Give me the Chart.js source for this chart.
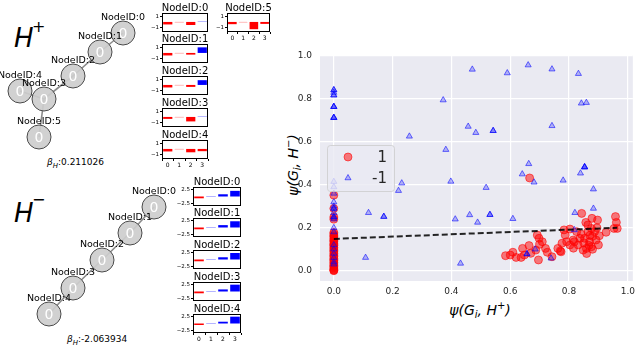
<!DOCTYPE html>
<html>
<head>
<meta charset="utf-8">
<script src="https://cdn.jsdelivr.net/npm/chart.js@4/dist/chart.umd.min.js"></script>
<style>
  body { margin: 0; width: 640px; height: 346px; background: #fff; position: relative; overflow: hidden; font-family: "DejaVu Sans", sans-serif; }
  canvas { position: absolute; }
  .txt { position: absolute; white-space: nowrap; color: #000; line-height: 1; }
  .it { font-style: italic; }
</style>
</head>
<body>
<div class="txt it" style="left:14px; top:25px; font-size:26px;">H</div>
<div class="txt" style="left:32px; top:19px; font-size:16px;">+</div>
<div class="txt it" style="left:14px; top:200px; font-size:26px;">H</div>
<div class="txt" style="left:32px; top:192px; font-size:16px;">−</div>
<div class="txt" style="left:47px; top:158px; font-size:9px;"><span class="it">β</span><sub class="it" style="font-size:7px">H</sub>:0.211026</div>
<div class="txt" style="left:67px; top:335px; font-size:9px;"><span class="it">β</span><sub class="it" style="font-size:7px">H</sub>:-2.063934</div>
<div class="txt it" style="left:400px; top:301px; width:160px; text-align:center; font-size:14px;">ψ(G<sub style="font-size:10px">i</sub>, H<sup style="font-size:10px">+</sup>)</div>
<div class="txt it" style="left:211px; top:158px; width:160px; text-align:center; font-size:14px; transform:rotate(-90deg); transform-origin:80px 7px;">ψ(G<sub style="font-size:10px">i</sub>, H<sup style="font-size:10px">−</sup>)</div>
<script>
// scatter: label 1 (red circles)
const POS_X = [
  0, 0, 0, 0, 0, 0, 0, 0, 0, 0, 0, 0, 0, 0, 0, 0, 0, 0, 0, 0, 0, 0, 0, 0, 0, 0, 0, 0, 0, 0, 0, 0,
  0.843, 0.878, 0.897, 0.857, 0.958, 0.961, 0.964, 0.953, 0.926, 0.903, 0.892, 0.876, 0.864, 0.842,
  0.853, 0.87, 0.876, 0.859, 0.848, 0.831, 0.818, 0.803, 0.792, 0.776, 0.787, 0.783, 0.803, 0.814,
  0.826, 0.837, 0.864, 0.887, 0.762, 0.77, 0.72, 0.726, 0.709, 0.698, 0.692, 0.7, 0.687, 0.67,
  0.664, 0.642, 0.648, 0.637, 0.62, 0.609, 0.6, 0.584, 0.696, 0.742, 0.773, 0.666, 0.88, 0.868,
  0.895, 0.85, 0.815, 0.9, 0.88, 0.86, 0.871
];
const POS_Y = [
  0.352, 0.29, 0.25, 0.24, 0.178, 0.171, 0.163, 0.158, 0.149, 0.142, 0.137, 0.128, 0.121, 0.117, 0.108, 0.101,
  0.094, 0.088, 0.079, 0.072, 0.066, 0.057, 0.051, 0.046, 0.038, 0.031, 0.024, 0.019, 0.012, 0.006, 0.002, 0.0,
  0.267, 0.244, 0.236, 0.225, 0.252, 0.225, 0.197, 0.197, 0.179, 0.163, 0.143, 0.197, 0.182, 0.17,
  0.151, 0.135, 0.112, 0.104, 0.096, 0.12, 0.135, 0.12, 0.135, 0.128, 0.166, 0.19, 0.194, 0.143,
  0.182, 0.151, 0.213, 0.182, 0.104, 0.092, 0.104, 0.086, 0.135, 0.151, 0.166, 0.123, 0.096, 0.081,
  0.117, 0.104, 0.073, 0.062, 0.062, 0.086, 0.073, 0.07, 0.05, 0.065, 0.088, 0.432, 0.16, 0.118,
  0.2, 0.13, 0.105, 0.12, 0.1, 0.08, 0.165
];
// scatter: label -1 (blue triangles), repeated values stack into darker marks
const NEG_X = [
  0, 0, 0, 0, 0, 0, 0, 0, 0, 0, 0, 0, 0, 0, 0, 0, 0, 0, 0, 0, 0, 0, 0, 0, 0, 0, 0, 0, 0, 0,
  0.471, 0.59, 0.661, 0.742, 0.832, 0.372, 0.842, 0.859, 0.457, 0.483, 0.542, 0.542, 0.742, 0.257,
  0.381, 0.663, 0.641, 0.681, 0.853, 0.853, 0.853, 0.839, 0.78, 0.883, 0.518, 0.398, 0.231, 0.22,
  0.118, 0.17, 0.17, 0.413, 0.462, 0.489, 0.531, 0.531, 0.609, 0.82, 0.883, 0.108, 0.431, 0.657,
  0.657, 0.685, 0.739, 0.818
];
const NEG_Y = [
  0.842, 0.842, 0.83, 0.818, 0.818, 0.764, 0.764, 0.764, 0.713, 0.713, 0.713, 0.415, 0.39, 0.36, 0.32, 0.3,
  0.29, 0.27, 0.25, 0.25, 0.24, 0.2, 0.18, 0.12, 0.1, 0.08, 0.06, 0.04, 0.03, 0.29,
  0.938, 0.921, 0.958, 0.939, 0.918, 0.795, 0.78, 0.783, 0.672, 0.643, 0.652, 0.652, 0.675, 0.626,
  0.564, 0.498, 0.45, 0.412, 0.483, 0.483, 0.483, 0.454, 0.421, 0.38, 0.387, 0.416, 0.408, 0.373,
  0.27, 0.252, 0.252, 0.24, 0.26, 0.225, 0.261, 0.261, 0.242, 0.27, 0.29, 0.061, 0.034, 0.078,
  0.078, 0.1, 0.058, 0.19
];
const FIT_X = [0, 0.964];
const FIT_Y = [0.148, 0.2];
const SCATTER_TICKS = [0, 0.2, 0.4, 0.6, 0.8, 1.0];
const X_LIMITS = [-0.047, 1.017];
const Y_LIMITS = [-0.048, 1.005];
const LEGEND_LABELS = ["1", "-1"];

// node feature bars
const BAR_CATS = ["0", "1", "2", "3"];
const HPLUS_BARS = [
  [-0.45, -0.05, -0.55, 0.05],
  [-0.45, -0.05, -0.3, 1.0],
  [-0.45, -0.05, -0.35, 0.85],
  [-0.35, -0.05, -0.8, 0.05],
  [-0.45, -0.05, -0.6, -0.4],
  [-0.4, -0.05, -1.3, -0.35],
];
const HMINUS_BARS = [
  [-0.6, 0.1, 0.75, 1.9],
  [-0.6, 0.1, 0.8, 2.1],
  [-0.6, 0.1, 0.75, 2.2],
  [-0.6, 0.1, 0.7, 2.3],
  [-0.5, 0.1, 0.6, 2.3],
];
const HPLUS_TICKS = [-1, 0, 1];
const HMINUS_TICKS = [-2.5, 0, 2.5];

// graph layouts
const HPLUS_NODE_X = [12.3, 10.0, 7.3, 4.4, 2.0, 3.9];
const HPLUS_NODE_Y = [12.2, 10.3, 7.9, 5.6, 6.4, 1.8];
const HPLUS_EDGES = [[0, 1], [1, 2], [2, 3], [3, 4], [3, 5]];
const HMINUS_NODE_X = [15.4, 13.0, 10.2, 7.3, 4.9];
const HMINUS_NODE_Y = [13.8, 11.2, 8.5, 5.7, 3.1];
const HMINUS_EDGES = [[0, 1], [1, 2], [2, 3], [3, 4]];
const NODE_VALUE = "0";

const RED = "#ff0000";
const BLUE = "#0000ff";
const FONT = '"DejaVu Sans", sans-serif';

Chart.defaults.font.family = FONT;
Chart.defaults.animation = false;

const fixedTicks = (values) => (scale) => { scale.ticks = values.map((value) => ({ value })); };
const fixWidth = (w) => (scale) => { scale.width = w; };
const fixHeight = (h) => (scale) => { scale.height = h; };
const minus = (text) => text.replace("-", "\u2212");

function makeCanvas(left, top, width, height) {
  const canvas = document.createElement("canvas");
  canvas.width = width;
  canvas.height = height;
  canvas.style.left = `${left}px`;
  canvas.style.top = `${top}px`;
  canvas.style.width = `${width}px`;
  canvas.style.height = `${height}px`;
  document.body.appendChild(canvas);
  return canvas;
}

// --- small bar charts ---
const boxPlugin = (title) => ({
  id: "box",
  afterDraw(chart) {
    const { ctx, chartArea: a } = chart;
    ctx.save();
    ctx.strokeStyle = "#000";
    ctx.lineWidth = 1;
    ctx.strokeRect(Math.round(a.left) + 0.5, Math.round(a.top) + 0.5, Math.round(a.width) - 1, Math.round(a.height) - 1);
    ctx.fillStyle = "#000";
    ctx.font = `10px ${FONT}`;
    ctx.textAlign = "center";
    ctx.textBaseline = "bottom";
    ctx.fillText(title, (a.left + a.right) / 2, a.top);
    ctx.restore();
  },
});

function smallBar(box, values, range, ticks, decimals, showX, title) {
  const AXW = 30, TOP = 14, AXH = 10;
  const canvas = makeCanvas(box.x - AXW, box.y - TOP, box.w + AXW + 2, box.h + TOP + AXH);
  new Chart(canvas, {
    type: "bar",
    data: {
      labels: BAR_CATS,
      datasets: [{
        data: values,
        backgroundColor: values.map((v) => (v < 0 ? RED : BLUE)),
        barPercentage: 0.8,
        categoryPercentage: 1,
      }],
    },
    options: {
      responsive: false,
      events: [],
      layout: { autoPadding: false, padding: { top: TOP, right: 2, left: 0, bottom: 0 } },
      plugins: { legend: { display: false }, tooltip: { enabled: false } },
      scales: {
        x: {
          grid: { drawOnChartArea: false, drawTicks: showX, tickLength: 2, color: "#000" },
          border: { display: false },
          ticks: { display: showX, font: { size: 6 }, color: "#000", padding: 1 },
          afterFit: fixHeight(AXH),
        },
        y: {
          min: range[0], max: range[1],
          grid: { drawOnChartArea: false, tickLength: 2, color: "#000" },
          border: { display: false },
          ticks: { font: { size: 5.5 }, color: "#000", padding: 1, callback: (v) => minus(Number(v).toFixed(decimals)) },
          afterBuildTicks: fixedTicks(ticks),
          afterFit: fixWidth(AXW),
        },
      },
    },
    plugins: [boxPlugin(title)],
  });
}

const HPLUS_BOXES = [
  { x: 162, y: 13, w: 46, h: 19 },
  { x: 162, y: 44, w: 46, h: 19 },
  { x: 162, y: 76, w: 46, h: 19 },
  { x: 162, y: 108, w: 46, h: 19 },
  { x: 162, y: 140, w: 46, h: 19 },
  { x: 227, y: 13, w: 43, h: 19 },
];
HPLUS_BARS.forEach((values, i) =>
  smallBar(HPLUS_BOXES[i], values, [-1.8, 1.6], HPLUS_TICKS, 0, i >= 4, `NodeID:${i}`));

const HMINUS_BOXES = [
  { x: 193, y: 187, w: 48, h: 19 },
  { x: 193, y: 218, w: 48, h: 19 },
  { x: 193, y: 250, w: 48, h: 19 },
  { x: 193, y: 282, w: 48, h: 19 },
  { x: 193, y: 314, w: 48, h: 19 },
];
HMINUS_BARS.forEach((values, i) =>
  smallBar(HMINUS_BOXES[i], values, [-3.2, 3.2], HMINUS_TICKS, 1, i === 4, `NodeID:${i}`));

// --- graph drawings ---
const nodeLabelPlugin = {
  id: "nodeLabels",
  afterDatasetsDraw(chart) {
    const { ctx } = chart;
    const meta = chart.getDatasetMeta(chart.data.datasets.length - 1);
    ctx.save();
    ctx.textAlign = "center";
    ctx.textBaseline = "middle";
    ctx.fillStyle = "#ffffff";
    ctx.font = `14px ${FONT}`;
    meta.data.forEach((pt) => ctx.fillText(NODE_VALUE, pt.x, pt.y + 1));
    ctx.fillStyle = "#000";
    ctx.font = `9.5px ${FONT}`;
    meta.data.forEach((pt, i) => ctx.fillText(`NodeID:${i}`, pt.x, pt.y - 15));
    ctx.restore();
  },
};

function graph(rect, xs, ys, edges, xMax, yMax) {
  const canvas = makeCanvas(rect.x, rect.y, rect.w, rect.h);
  const datasets = edges.map(([a, b]) => ({
    type: "line",
    data: [{ x: xs[a], y: ys[a] }, { x: xs[b], y: ys[b] }],
    borderColor: "#8a8a8a",
    borderWidth: 1.6,
    pointRadius: 0,
    order: 2,
  }));
  datasets.push({
    data: xs.map((x, i) => ({ x, y: ys[i] })),
    pointRadius: 12,
    backgroundColor: "rgba(205,205,205,0.92)",
    borderColor: "#4a4a4a",
    borderWidth: 1,
    order: 1,
  });
  new Chart(canvas, {
    type: "scatter",
    data: { datasets },
    options: {
      responsive: false,
      events: [],
      clip: false,
      layout: { autoPadding: false, padding: 0 },
      plugins: { legend: { display: false }, tooltip: { enabled: false } },
      scales: { x: { display: false, min: 0, max: xMax }, y: { display: false, min: 0, max: yMax } },
    },
    plugins: [nodeLabelPlugin],
  });
}

graph({ x: 0, y: 0, w: 150, h: 155 }, HPLUS_NODE_X, HPLUS_NODE_Y, HPLUS_EDGES, 15, 15.5);
graph({ x: 0, y: 175, w: 190, h: 170 }, HMINUS_NODE_X, HMINUS_NODE_Y, HMINUS_EDGES, 19, 17);

// --- scatter ---
const backgroundPlugin = {
  id: "bg",
  beforeDraw(chart) {
    const { ctx, chartArea: a } = chart;
    ctx.save();
    ctx.fillStyle = "#eaeaf2";
    ctx.fillRect(a.left, a.top, a.width, a.height);
    ctx.restore();
  },
};

const legendPlugin = {
  id: "insideLegend",
  afterDraw(chart) {
    const { ctx, chartArea: a } = chart;
    const x = a.left + 7, y = a.top + 90, w = 67, h = 46;
    ctx.save();
    ctx.beginPath();
    ctx.roundRect(x + 0.5, y + 0.5, w, h, 3);
    ctx.fillStyle = "rgba(234,234,242,0.8)";
    ctx.fill();
    ctx.strokeStyle = "rgba(204,204,204,0.8)";
    ctx.lineWidth = 1;
    ctx.stroke();
    const sets = [chart.data.datasets[2], chart.data.datasets[1]];
    sets.forEach((ds, i) => {
      const cy = y + 12 + i * 21;
      ctx.fillStyle = ds.backgroundColor;
      ctx.strokeStyle = ds.borderColor;
      ctx.lineWidth = ds.borderWidth;
      Chart.helpers.drawPoint(ctx, { pointStyle: ds.pointStyle, radius: ds.pointRadius, borderWidth: ds.borderWidth, rotation: 0 }, x + 21, cy);
      ctx.fillStyle = "#262626";
      ctx.font = `15px ${FONT}`;
      ctx.textAlign = "right";
      ctx.textBaseline = "middle";
      ctx.fillText(LEGEND_LABELS[i], x + 60, cy + 1);
    });
    ctx.restore();
  },
};

const scatterCanvas = makeCanvas(285, 40, 355, 265);
new Chart(scatterCanvas, {
  type: "scatter",
  data: {
    datasets: [
      {
        type: "line",
        data: FIT_X.map((x, i) => ({ x, y: FIT_Y[i] })),
        borderColor: "rgba(0,0,0,0.85)",
        borderWidth: 2,
        borderDash: [6, 3],
        pointRadius: 0,
        order: 0,
      },
      {
        data: NEG_X.map((x, i) => ({ x, y: NEG_Y[i] })),
        pointStyle: "triangle",
        pointRadius: 3.5,
        backgroundColor: "rgba(0,0,255,0.25)",
        borderColor: "rgba(0,0,255,0.55)",
        borderWidth: 1,
        order: 1,
      },
      {
        data: POS_X.map((x, i) => ({ x, y: POS_Y[i] })),
        pointStyle: "circle",
        pointRadius: 4,
        backgroundColor: "rgba(255,0,0,0.5)",
        borderColor: "rgba(255,0,0,0.55)",
        borderWidth: 1,
        order: 2,
      },
    ],
  },
  options: {
    responsive: false,
    events: [],
    layout: { autoPadding: false, padding: { top: 15, right: 1, left: 0, bottom: 0 } },
    plugins: { legend: { display: false }, tooltip: { enabled: false } },
    scales: {
      x: {
        type: "linear",
        min: X_LIMITS[0], max: X_LIMITS[1],
        grid: { color: "#ffffff", lineWidth: 1.2, drawTicks: false },
        border: { display: false },
        ticks: { font: { size: 9 }, color: "#262626", padding: 5, callback: (v) => Number(v).toFixed(1) },
        afterBuildTicks: fixedTicks(SCATTER_TICKS),
        afterFit: fixHeight(24),
      },
      y: {
        min: Y_LIMITS[0], max: Y_LIMITS[1],
        grid: { color: "#ffffff", lineWidth: 1.2, drawTicks: false },
        border: { display: false },
        ticks: { font: { size: 9 }, color: "#262626", padding: 8, callback: (v) => Number(v).toFixed(1) },
        afterBuildTicks: fixedTicks(SCATTER_TICKS),
        afterFit: fixWidth(35),
      },
    },
  },
  plugins: [backgroundPlugin, legendPlugin],
});
</script>
</body>
</html>
